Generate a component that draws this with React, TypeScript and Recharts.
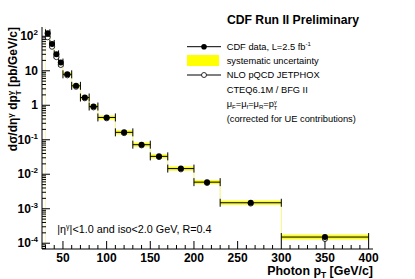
import React from "react";
import {
  ComposedChart,
  XAxis,
  YAxis,
  Area,
  Scatter,
  ErrorBar,
  ReferenceLine
} from "recharts";

const FONT = '"Liberation Sans", Arial, Helvetica, sans-serif';

// photon pT bins [GeV/c]
const binLow = [30, 35, 40, 45, 50, 60, 70, 80, 90, 110, 130, 150, 170, 200, 230, 300];
const binHigh = [35, 40, 45, 50, 60, 70, 80, 90, 110, 130, 150, 170, 200, 230, 300, 400];

// d sigma / d eta d pT  [pb/GeV/c]
const cdfData = [122, 60, 30, 17.3, 7.9, 3.66, 1.68, 0.92, 0.443, 0.164, 0.072, 0.033, 0.0146, 0.0059, 0.00149, 0.000151];
const jetphoxNlo = [94, 50, 25, 14.8, 7.4, 3.45, 1.6, 0.87, 0.42, 0.156, 0.069, 0.0315, 0.0139, 0.0056, 0.00142, 0.000134];
// relative systematic uncertainty
const sysRel = [0.12, 0.12, 0.12, 0.12, 0.12, 0.12, 0.12, 0.12, 0.13, 0.13, 0.13, 0.13, 0.13, 0.13, 0.14, 0.16];

const xTicks = [30, 40, 50, 60, 70, 80, 90, 100, 110, 120, 130, 140, 150, 160, 170, 180, 190, 200, 210, 220, 230, 240, 250, 260, 270, 280, 290, 300, 310, 320, 330, 340, 350, 360, 370, 380, 390, 400];
const yDecades = [1e-5, 1e-4, 1e-3, 1e-2, 1e-1, 1, 10, 100];
const yMinorSteps = [1, 2, 3, 4, 5, 6, 7, 8, 9];

const xDomain = [26, 405];
const yDomain = [6.8e-5, 186];

const yTicks = yDecades
  .flatMap((d) => yMinorSteps.map((k) => k * d))
  .filter((v) => v >= yDomain[0] && v <= yDomain[1]);

const dataRows = binLow.map((lo, i) => ({
  x: (lo + binHigh[i]) / 2,
  y: cdfData[i],
  ex: (binHigh[i] - lo) / 2
}));

const theoryRows = binLow.map((lo, i) => ({
  x: (lo + binHigh[i]) / 2,
  y: jetphoxNlo[i]
}));

const bandRows = [
  ...binLow.map((lo, i) => ({
    x: lo,
    band: [cdfData[i] / (1 + sysRel[i]), cdfData[i] * (1 + sysRel[i])]
  })),
  {
    x: binHigh[binHigh.length - 1],
    band: [
      cdfData[cdfData.length - 1] / (1 + sysRel[sysRel.length - 1]),
      cdfData[cdfData.length - 1] * (1 + sysRel[sysRel.length - 1])
    ]
  }
];

const XTick = (props: any) => {
  const { x, y, payload } = props;
  const v = payload.value;
  const axisY = y - 8;
  const major = v % 50 === 0;
  return (
    <g>
      <line x1={x} x2={x} y1={axisY} y2={axisY - (major ? 8 : 4)} stroke="#000" strokeWidth={1} />
      {major && (
        <text x={x} y={axisY + 13} textAnchor="middle" fontFamily={FONT} fontWeight="bold" fontSize={12} fill="#000">
          {v}
        </text>
      )}
    </g>
  );
};

const YTick = (props: any) => {
  const { x, y, payload } = props;
  const v = payload.value;
  const axisX = x + 3;
  const e = Math.round(Math.log10(v));
  const major = Math.abs(v / Math.pow(10, e) - 1) < 1e-6;
  return (
    <g>
      <line x1={axisX} x2={axisX + (major ? 8 : 4)} y1={y} y2={y} stroke="#000" strokeWidth={1} />
      {major && (
        <text x={x - 1} y={y + 4} textAnchor="end" fontFamily={FONT} fontWeight="bold" fontSize={12} fill="#000">
          {e === 0 ? "1" : e === 1 ? "10" : (
            <>
              <tspan>10</tspan>
              <tspan dy={-5} fontSize={8}>{e}</tspan>
            </>
          )}
        </text>
      )}
    </g>
  );
};

const DataDot = (props: any) => <circle cx={props.cx} cy={props.cy} r={3} fill="#000" />;
const TheoryDot = (props: any) => (
  <circle cx={props.cx} cy={props.cy} r={2.6} fill="#fff" stroke="#000" strokeWidth={0.8} />
);

function Overlay() {
  const txt = { fontFamily: FONT, fontSize: 9.3, fill: "#000" };
  return (
    <svg width={415} height={279} style={{ position: "absolute", left: 0, top: 0, pointerEvents: "none" }}>
      <text x={359} y={24} textAnchor="end" fontFamily={FONT} fontWeight="bold" fontSize={12.2}>
        CDF Run II Preliminary
      </text>

      {/* legend */}
      <line x1={187} x2={221} y1={46.7} y2={46.7} stroke="#000" strokeWidth={1} />
      <circle cx={204} cy={46.7} r={2.8} fill="#000" />
      <text x={226.7} y={50} {...txt}>
        CDF data, L=2.5 fb<tspan dy={-4} fontSize={6}>-1</tspan>
      </text>

      <rect x={187} y={55} width={32} height={11} fill="#ffff00" />
      <text x={226.7} y={64} {...txt}>systematic uncertainty</text>

      <line x1={187} x2={221} y1={75} y2={75} stroke="#000" strokeWidth={1} />
      <circle cx={204} cy={75} r={2.5} fill="#fff" stroke="#000" strokeWidth={0.8} />
      <text x={226.7} y={78.3} {...txt}>NLO pQCD JETPHOX</text>

      <text x={226.7} y={92.5} {...txt}>CTEQ6.1M / BFG II</text>

      <text x={226.7} y={107} {...txt}>
        μ<tspan dy={2} fontSize={6}>F</tspan>
        <tspan dy={-2}>=μ</tspan>
        <tspan dy={2} fontSize={6}>f</tspan>
        <tspan dy={-2}>=μ</tspan>
        <tspan dy={2} fontSize={6}>R</tspan>
        <tspan dy={-2}>=p</tspan>
        <tspan dy={-3.5} fontSize={5.5}>γ</tspan>
        <tspan dx={-3} dy={6} fontSize={5.5}>T</tspan>
      </text>

      <text x={226.7} y={121.5} {...txt}>(corrected for UE contributions)</text>

      {/* selection cuts */}
      <text x={57.3} y={233} fontFamily={FONT} fontSize={10.8} fill="#000">
        |η<tspan dy={-4} fontSize={7}>γ</tspan>
        <tspan dy={4}>|&lt;1.0 and iso&lt;2.0 GeV, R=0.4</tspan>
      </text>

      {/* axis titles */}
      <text x={373} y={275} textAnchor="end" fontFamily={FONT} fontWeight="bold" fontSize={12.4}>
        Photon p<tspan dy={3} fontSize={8.5}>T</tspan>
        <tspan dy={-3}> [GeV/c]</tspan>
      </text>
      <text
        transform="rotate(-90)"
        x={-27}
        y={17}
        textAnchor="end"
        fontFamily={FONT}
        fontWeight="bold"
        fontSize={12}
      >
        dσ/dη<tspan dy={-4.5} fontSize={8}>γ</tspan>
        <tspan dy={4.5}> dp</tspan>
        <tspan dy={-4.5} fontSize={8}>γ</tspan>
        <tspan dx={-4.5} dy={8} fontSize={8}>T</tspan>
        <tspan dy={-3.5}> [pb/GeV/c]</tspan>
      </text>
    </svg>
  );
}

export default function App() {
  return (
    <div style={{ position: "absolute", left: 0, top: 0, width: 415, height: 279, background: "#fff" }}>
      <ComposedChart
        width={415}
        height={279}
        data={bandRows}
        margin={{ top: 27, right: 42, bottom: 0, left: 0 }}
      >
        <XAxis
          dataKey="x"
          type="number"
          domain={xDomain}
          allowDataOverflow
          ticks={xTicks}
          interval={0}
          tick={<XTick />}
          tickLine={false}
          tickSize={0}
          tickMargin={8}
          height={30}
          axisLine={{ stroke: "#000" }}
        />
        <XAxis
          xAxisId="top"
          orientation="top"
          type="number"
          domain={xDomain}
          height={0}
          tick={false}
          tickLine={false}
          axisLine={{ stroke: "#000" }}
        />
        <YAxis
          dataKey="y"
          type="number"
          scale="log"
          domain={yDomain}
          allowDataOverflow
          ticks={yTicks}
          interval={0}
          tick={<YTick />}
          tickLine={false}
          tickSize={0}
          tickMargin={3}
          width={42}
          axisLine={{ stroke: "#000" }}
        />
        <YAxis
          yAxisId="right"
          orientation="right"
          type="number"
          scale="log"
          domain={yDomain}
          width={0}
          tick={false}
          tickLine={false}
          axisLine={{ stroke: "#000" }}
        />
        <ReferenceLine x={binLow[0]} stroke="#f6f6c0" strokeWidth={1} />
        <Area
          dataKey="band"
          type="stepAfter"
          fill="#ffff00"
          fillOpacity={1}
          stroke="#f4f480"
          strokeWidth={0.6}
          dot={false}
          activeDot={false}
          isAnimationActive={false}
        />
        <Scatter data={theoryRows} dataKey="y" shape={<TheoryDot />} isAnimationActive={false} />
        <Scatter data={dataRows} dataKey="y" shape={<DataDot />} isAnimationActive={false}>
          <ErrorBar dataKey="ex" direction="x" width={4} stroke="#000" strokeWidth={1} />
        </Scatter>
      </ComposedChart>
      <Overlay />
    </div>
  );
}
